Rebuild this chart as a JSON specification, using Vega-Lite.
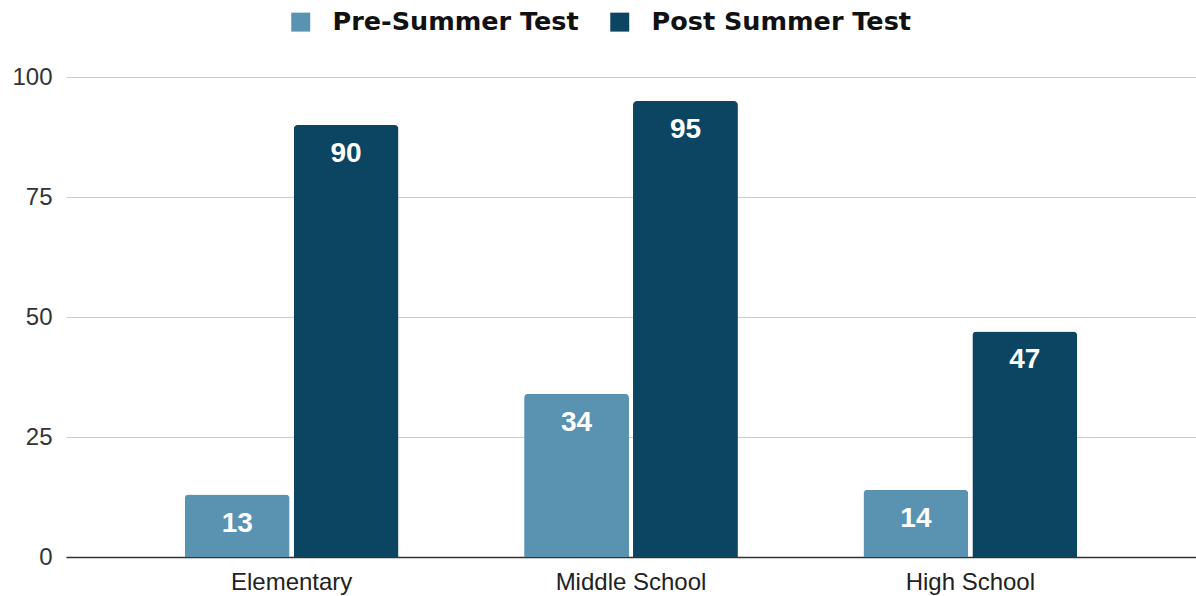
{
  "$schema": "https://vega.github.io/schema/vega-lite/v6.json",
  "width": 1130,
  "height": 480,
  "autosize": {"type": "none"},
  "padding": {"left": 66, "top": 77, "right": 0, "bottom": 39},
  "background": "white",
  "config": {
    "view": {"stroke": null},
    "font": "Liberation Sans"
  },
  "data": {
    "values": [
      {"level": "Elementary", "test": "Pre-Summer Test", "score": 13},
      {"level": "Elementary", "test": "Post Summer Test", "score": 90},
      {"level": "Middle School", "test": "Pre-Summer Test", "score": 34},
      {"level": "Middle School", "test": "Post Summer Test", "score": 95},
      {"level": "High School", "test": "Pre-Summer Test", "score": 14},
      {"level": "High School", "test": "Post Summer Test", "score": 47}
    ]
  },
  "encoding": {
    "x": {
      "field": "level",
      "type": "nominal",
      "sort": ["Elementary", "Middle School", "High School"],
      "scale": {"paddingInner": 0.37, "paddingOuter": 0.35},
      "axis": {
        "title": null,
        "labelAngle": 0,
        "labelFontSize": 24,
        "labelColor": "#222222",
        "labelPadding": 13,
        "ticks": false,
        "domainColor": "#333333",
        "domainWidth": 1.5
      }
    },
    "xOffset": {
      "field": "test",
      "type": "nominal",
      "sort": ["Pre-Summer Test", "Post Summer Test"],
      "scale": {"paddingInner": 0.037}
    },
    "y": {
      "field": "score",
      "type": "quantitative",
      "scale": {"domain": [0, 100]},
      "axis": {
        "title": null,
        "values": [0, 25, 50, 75, 100],
        "labelFontSize": 24,
        "labelColor": "#333333",
        "labelPadding": 14,
        "ticks": false,
        "domain": false,
        "gridColor": "#cccccc",
        "gridWidth": 1
      }
    }
  },
  "layer": [
    {
      "mark": {"type": "bar", "cornerRadiusTopLeft": 4, "cornerRadiusTopRight": 4},
      "encoding": {
        "color": {
          "field": "test",
          "type": "nominal",
          "sort": ["Pre-Summer Test", "Post Summer Test"],
          "scale": {"range": ["#5a93b2", "#0b4562"]},
          "legend": {
            "title": null,
            "orient": "none",
            "direction": "horizontal",
            "legendX": 222,
            "legendY": -68,
            "symbolType": "square",
            "symbolSize": 360,
            "symbolStrokeWidth": 0,
            "labelFont": "DejaVu Sans",
            "labelFontSize": 25.5,
            "labelFontWeight": "bold",
            "labelColor": "#111111",
            "labelOffset": 19,
            "labelLimit": 400,
            "columnPadding": 28
          }
        }
      }
    },
    {
      "mark": {
        "type": "text",
        "baseline": "middle",
        "dy": 29,
        "color": "white",
        "fontSize": 28,
        "fontWeight": "bold"
      },
      "encoding": {
        "text": {"field": "score", "type": "quantitative"}
      }
    }
  ]
}
